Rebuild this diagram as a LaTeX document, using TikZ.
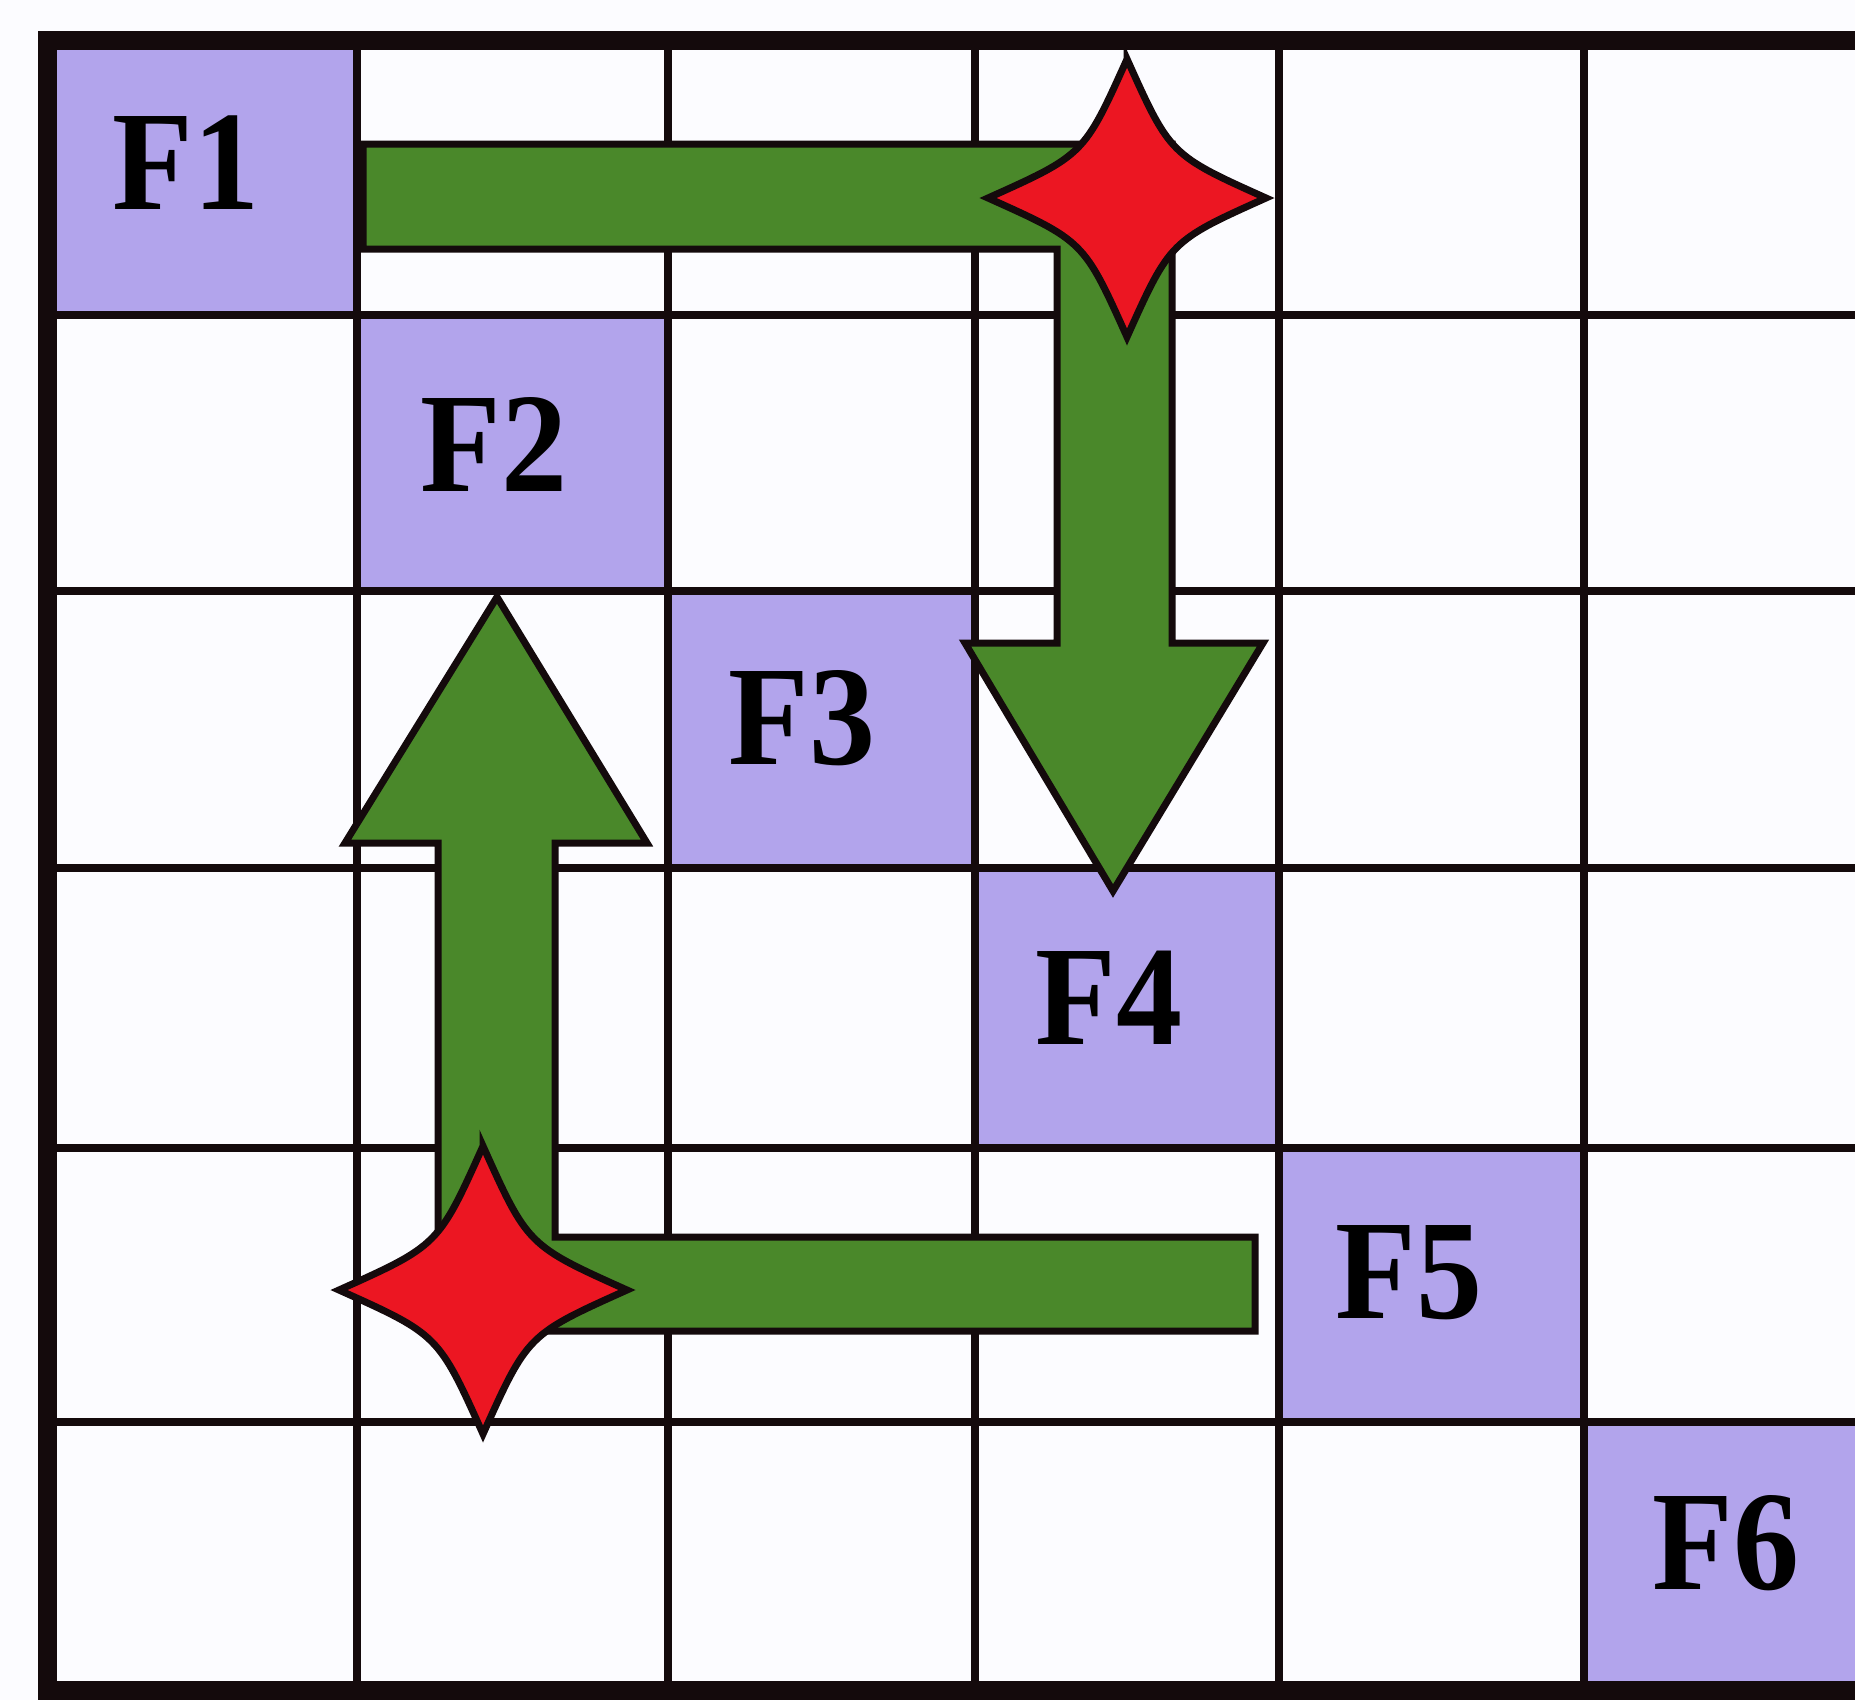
\documentclass[tikz,border=0pt]{standalone}
\usepackage{fontspec}
\setmainfont{Liberation Serif}
\newfontfamily\cellfont[FakeStretch=0.93]{Liberation Serif}
\definecolor{cellpurple}{RGB}{178,164,236}
\definecolor{arrowgreen}{RGB}{74,136,42}
\definecolor{starred}{RGB}{236,22,34}
\definecolor{paper}{RGB}{252,252,255}
\definecolor{ink}{RGB}{20,10,12}
\tikzset{
  gridline/.style={line width=8.5pt, draw=ink},
  borderline/.style={line width=19pt, draw=ink, line join=miter},
  cellfill/.style={fill=cellpurple},
  arrowshape/.style={fill=arrowgreen, draw=ink, line width=7pt, line join=miter},
  starshape/.style={fill=starred, draw=ink, line width=7pt, line join=miter, miter limit=20},
  celltext/.style={font=\cellfont\bfseries\fontsize{142}{142}\selectfont, inner sep=0pt, text=black},
  sparkle/.pic={
    \path[starshape] (0,-1)
      .. controls (0.31,-0.31) .. (1,0)
      .. controls (0.31,0.31) .. (0,1)
      .. controls (-0.31,0.31) .. (-1,0)
      .. controls (-0.31,-0.31) .. cycle;
  }
}
\begin{document}
\begin{tikzpicture}[x=1pt,y=-1pt]
\useasboundingbox (0,0) rectangle (1855,1700);
\fill[paper] (0,0) rectangle (1855,1700);
\begin{scope}
\clip (0,0) rectangle (1855,1700);
% purple cells
\fill[cellfill] (47,40) rectangle (357,315);
\fill[cellfill] (357,315) rectangle (668,591);
\fill[cellfill] (668,591) rectangle (975,868);
\fill[cellfill] (975,868) rectangle (1279,1148);
\fill[cellfill] (1279,1148) rectangle (1584,1422);
\fill[cellfill] (1584,1422) rectangle (1900,1690);
% inner grid lines
\foreach \gx in {357,668,975,1279,1584} {
  \draw[gridline] (\gx,40) -- (\gx,1690);
}
\foreach \gy in {315,591,868,1148,1422} {
  \draw[gridline] (47,\gy) -- (1900,\gy);
}
% outer border
\draw[borderline] (1900,40) -- (47,40) -- (47,1690) -- (1900,1690);
% green arrows
\path[arrowshape] (363,144) -- (1172,144) -- (1172,643) -- (1263,643) -- (1113,891)
  -- (965,643) -- (1057,643) -- (1057,249) -- (363,249) -- cycle;
\path[arrowshape] (1255,1237) -- (555,1237) -- (555,843) -- (647,843) -- (497,597)
  -- (345,843) -- (438,843) -- (438,1331) -- (1255,1331) -- cycle;
% red stars
\coordinate (s1) at (1127,198);
\coordinate (s2) at (483,1290);
\pic[scale=139] at (s1) {sparkle};
\pic[scale=144] at (s2) {sparkle};
% labels
\node[celltext] (f1) at (186,163) {F1};
\node[celltext] (f2) at (494,444) {F2};
\node[celltext] (f3) at (802,718) {F3};
\node[celltext] (f4) at (1109,998) {F4};
\node[celltext] (f5) at (1409,1273) {F5};
\node[celltext] (f6) at (1726,1543) {F6};
\end{scope}
\end{tikzpicture}
\end{document}
